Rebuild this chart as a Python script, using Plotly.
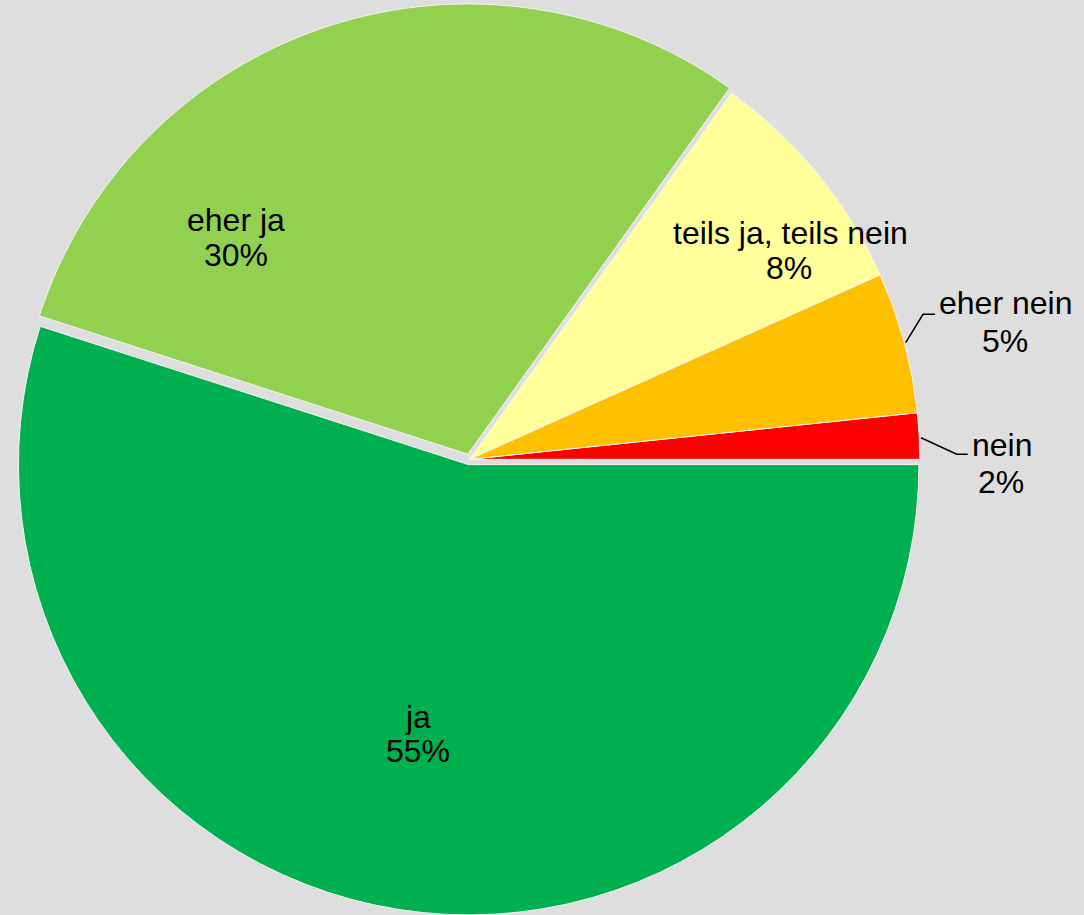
import plotly.graph_objects as go

# Data
labels = ["nein", "eher nein", "teils ja, teils nein", "eher ja", "ja"]
values = [1.65, 5.07, 8.4, 29.9, 54.96]
colors = ["#FF0000", "#FFC000", "#FFFF99", "#92D050", "#00B050"]
pulls = [0, 0, 0, 0.012, 0.012]

W, H = 1084, 915
BG = "#DEDEDE"
FONT = "Liberation Sans, Arial, sans-serif"
FS = 32

total = sum(values)
# plotly's counterclockwise pies end the first slice at the rotation angle;
# start the first slice at 3 o'clock instead
start_rotation = 90 - 360 * values[0] / total


def px(x, y):
    return x / W, 1 - y / H


fig = go.Figure()
fig.add_trace(go.Pie(
    labels=labels,
    values=values,
    sort=False,
    direction="counterclockwise",
    rotation=start_rotation,
    pull=pulls,
    marker=dict(colors=colors, line=dict(color="#F4F4F4", width=1)),
    textinfo="none",
    hoverinfo="label+percent",
    showlegend=False,
    domain=dict(x=[0.0128, 0.8535], y=[0.0, 0.9960]),
))

# label placement (pixel centres of the two text lines)
label_pos = {
    "nein": ((1002, 445), (1001, 482)),
    "eher nein": ((1005, 303), (1005, 341)),
    "teils ja, teils nein": ((790, 233), (789, 268)),
    "eher ja": ((236, 220), (236, 255)),
    "ja": ((418, 717), (418, 751)),
}

annotations = []
for lab, val in zip(labels, values):
    (x1, y1), (x2, y2) = label_pos[lab]
    pct = f"{round(val / total * 100)}%"
    for (xx, yy), txt in (((x1, y1), lab), ((x2, y2), pct)):
        ax, ay = px(xx, yy)
        annotations.append(dict(
            x=ax, y=ay, xref="paper", yref="paper", text=txt,
            showarrow=False, xanchor="center", yanchor="middle",
            font=dict(family=FONT, size=FS, color="#000000"),
        ))

# leader lines for the outside labels
leaders = [
    [(905.7, 342.7), (923, 314.3), (935, 314.3)],
    [(921, 437.7), (956.7, 454.3), (967.7, 454.3)],
]
shapes = []
for pts in leaders:
    path = ""
    for i, (xx, yy) in enumerate(pts):
        ax, ay = px(xx, yy)
        path += ("M" if i == 0 else "L") + f"{ax},{ay} "
    shapes.append(dict(type="path", xref="paper", yref="paper", path=path.strip(),
                       line=dict(color="#000000", width=1.5)))

fig.update_layout(
    width=W, height=H,
    margin=dict(l=0, r=0, t=0, b=0),
    paper_bgcolor=BG, plot_bgcolor=BG,
    annotations=annotations,
    shapes=shapes,
    font=dict(family=FONT, size=FS, color="#000000"),
)

fig.write_html(
    "out.html",
    config={"displayModeBar": False},
    post_script="document.body.style.margin='0';document.body.style.background='#DEDEDE';",
)
